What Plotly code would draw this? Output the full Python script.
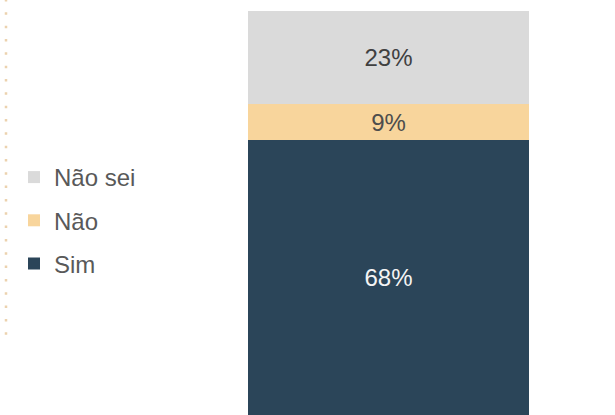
import plotly.graph_objects as go

categories = ["Sim", "Não", "Não sei"]
values = [68, 9, 23]
legend_ranks = [3, 2, 1]
colors = ["#2b4559", "#f8d59c", "#dadada"]
text_colors = ["#f4f4f4", "#4d4d4d", "#404040"]

fig = go.Figure()
for name, v, rk, c, tc in zip(categories, values, legend_ranks, colors, text_colors):
    fig.add_trace(go.Bar(
        x=[0], y=[v], name=name, width=1,
        marker=dict(color=c, line=dict(width=0)),
        texttemplate="%{y}%", textposition="inside", insidetextanchor="middle",
        textangle=0,
        textfont=dict(family="Liberation Sans, Arial, sans-serif", size=24, color=tc),
        legendgroup=name, legendrank=rk, hoverinfo="skip",
    ))

W, H = 615, 415
top = 11
plot_h = H - top
a = -0.5 - 248 / 281
b = a + W / 281

def py(p):
    return (H - p) / plot_h

fig.add_shape(type="line", xref="paper", yref="paper",
              x0=6 / W, x1=6 / W, y0=py(-1), y1=py(335),
              line=dict(color="#ecd2ae", width=2.5, dash="2.5px,10.83px"))

fig.update_layout(
    width=W, height=H, barmode="stack",
    margin=dict(l=0, r=0, t=top, b=0),
    paper_bgcolor="white", plot_bgcolor="white",
    xaxis=dict(range=[a, b], visible=False, fixedrange=True),
    yaxis=dict(range=[0, 100], visible=False, fixedrange=True),
    showlegend=True,
    legend=dict(
        x=14 / W, xanchor="left", y=py(155), yanchor="top",
        traceorder="grouped", tracegroupgap=9,
        font=dict(family="Liberation Sans, Arial, sans-serif", size=24, color="#595959"),
        bgcolor="rgba(0,0,0,0)", itemwidth=30,
    ),
    uniformtext=dict(mode=False),
)

fig.write_html("out.html")
